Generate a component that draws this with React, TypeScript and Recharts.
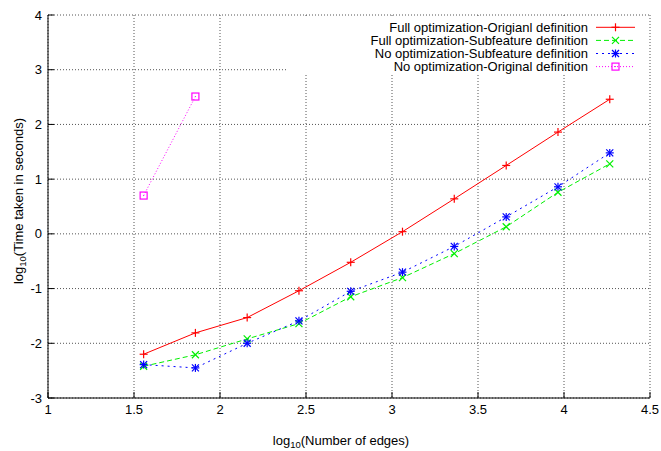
import React from 'react';
import { LineChart, Line, XAxis, YAxis, CartesianGrid } from 'recharts';

// log10 of edge counts (x) and log10 of running time (y)
const edgesLog = [1.556, 1.857, 2.158, 2.459, 2.76, 3.061, 3.362, 3.664, 3.965, 4.266];
const fullOrig = [-2.2, -1.81, -1.53, -1.04, -0.52, 0.04, 0.64, 1.25, 1.86, 2.46];
const fullSub = [-2.42, -2.21, -1.92, -1.64, -1.15, -0.8, -0.36, 0.13, 0.76, 1.28];
const noSub = [-2.39, -2.45, -2.0, -1.59, -1.05, -0.7, -0.23, 0.31, 0.86, 1.48];
const noOrig = [0.7, 2.51];

const xTicks = [1, 1.5, 2, 2.5, 3, 3.5, 4, 4.5];
const yTicks = [-3, -2, -1, 0, 1, 2, 3, 4];

const seriesNames = [
  'Full optimization-Origianl definition',
  'Full optimization-Subfeature definition',
  'No optimization-Subfeature definition',
  'No optimization-Original definition',
];

const rows = edgesLog.map((x, i) => ({
  x,
  fullOrig: fullOrig[i],
  fullSub: fullSub[i],
  noSub: noSub[i],
  noOrig: i < noOrig.length ? noOrig[i] : null,
}));

const FONT = '"Liberation Sans", Arial, sans-serif';
const RED = '#ff0000';
const GREEN = '#00f000';
const BLUE = '#0000ff';
const MAGENTA = '#ff00ff';

function Marker({ kind, cx, cy, color }: { kind: string; cx: number; cy: number; color: string }) {
  const s = 4;
  const plus = (
    <>
      <line x1={cx - s} y1={cy} x2={cx + s} y2={cy} stroke={color} strokeWidth={1.2} />
      <line x1={cx} y1={cy - s} x2={cx} y2={cy + s} stroke={color} strokeWidth={1.2} />
    </>
  );
  const cross = (
    <>
      <line x1={cx - 3.5} y1={cy - 3.5} x2={cx + 3.5} y2={cy + 3.5} stroke={color} strokeWidth={1.2} />
      <line x1={cx - 3.5} y1={cy + 3.5} x2={cx + 3.5} y2={cy - 3.5} stroke={color} strokeWidth={1.2} />
    </>
  );
  if (kind === 'plus') return <g>{plus}</g>;
  if (kind === 'cross') return <g>{cross}</g>;
  if (kind === 'star') return <g>{plus}{cross}</g>;
  return (
    <g>
      <rect x={cx - 3.5} y={cy - 3.5} width={7} height={7} fill="none" stroke={color} strokeWidth={1.2} />
      <rect x={cx - 0.5} y={cy - 0.5} width={1} height={1} fill={color} />
    </g>
  );
}

const dotFor = (kind: string, color: string) => (p: any) => {
  if (p.cx == null || p.cy == null || p.value == null) return <g key={p.index} />;
  return <Marker key={p.index} kind={kind} cx={p.cx} cy={p.cy} color={color} />;
};

const legendItems = [
  { kind: 'plus', color: RED, dash: undefined },
  { kind: 'cross', color: GREEN, dash: '5 3' },
  { kind: 'star', color: BLUE, dash: '2 4' },
  { kind: 'square', color: MAGENTA, dash: '1 2' },
];

function KeyBox() {
  return (
    <g>
      <rect x={287} y={16} width={362} height={57} fill="#fff" />
      {legendItems.map((it, i) => {
        const y = 27.3 + i * 13.1;
        return (
          <g key={i}>
            <text x={588} y={y} dy="0.35em" textAnchor="end" fontFamily={FONT} fontSize={13} fill="#000">
              {seriesNames[i]}
            </text>
            <line x1={596} y1={y} x2={635} y2={y} stroke={it.color} strokeWidth={1} strokeDasharray={it.dash} />
            <Marker kind={it.kind} cx={615.5} cy={y} color={it.color} />
          </g>
        );
      })}
    </g>
  );
}

function AxisTitles() {
  return (
    <g fontFamily={FONT} fontSize={13} fill="#000">
      <text x={341} y={445} textAnchor="middle">
        log<tspan fontSize={9.5} dy={3}>10</tspan>
        <tspan dy={-3}>(Number of edges)</tspan>
      </text>
      <text x={23} y={201} textAnchor="middle" transform="rotate(-90 23 201)">
        log<tspan fontSize={9.5} dy={3}>10</tspan>
        <tspan dy={-3}>(Time taken in seconds)</tspan>
      </text>
    </g>
  );
}

const tickStyle = { fontFamily: FONT, fontSize: 13, fill: '#000' };

export default function App() {
  return (
    <div style={{ position: 'absolute', left: 0, top: 0, width: 661, height: 451 }}>
      <LineChart
        width={661}
        height={451}
        data={rows}
        margin={{ top: 15, right: 11, bottom: 0, left: 0 }}
        style={{ background: '#fff' }}
      >
        <CartesianGrid stroke="#555" strokeDasharray="1 2" />
        <XAxis
          dataKey="x"
          type="number"
          domain={[1, 4.5]}
          ticks={xTicks}
          height={53}
          stroke="#000"
          tickSize={-6}
          tickMargin={13}
          tick={tickStyle}
          allowDataOverflow
        />
        <XAxis
          xAxisId="top"
          orientation="top"
          type="number"
          domain={[1, 4.5]}
          ticks={xTicks}
          height={0}
          stroke="#000"
          tickSize={-6}
          tick={false}
        />
        <YAxis
          type="number"
          domain={[-3, 4]}
          ticks={yTicks}
          width={48}
          stroke="#000"
          tickSize={-6}
          tickMargin={12}
          tick={tickStyle}
          allowDataOverflow
        />
        <YAxis
          yAxisId="right"
          orientation="right"
          type="number"
          domain={[-3, 4]}
          ticks={yTicks}
          width={0}
          stroke="#000"
          tickSize={-6}
          tick={false}
        />
        <KeyBox />
        <AxisTitles />
        <Line
          dataKey="fullOrig"
          stroke={RED}
          strokeWidth={1}
          dot={dotFor('plus', RED)}
          activeDot={false}
          isAnimationActive={false}
        />
        <Line
          dataKey="fullSub"
          stroke={GREEN}
          strokeWidth={1}
          strokeDasharray="5 3"
          dot={dotFor('cross', GREEN)}
          activeDot={false}
          isAnimationActive={false}
        />
        <Line
          dataKey="noSub"
          stroke={BLUE}
          strokeWidth={1}
          strokeDasharray="2 4"
          dot={dotFor('star', BLUE)}
          activeDot={false}
          isAnimationActive={false}
        />
        <Line
          dataKey="noOrig"
          stroke={MAGENTA}
          strokeWidth={1}
          strokeDasharray="1 2"
          dot={dotFor('square', MAGENTA)}
          activeDot={false}
          isAnimationActive={false}
        />
      </LineChart>
    </div>
  );
}
